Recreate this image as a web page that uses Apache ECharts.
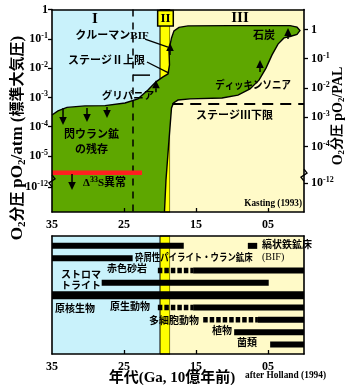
<!DOCTYPE html>
<html>
<head>
<meta charset="utf-8">
<script src="https://cdn.jsdelivr.net/npm/echarts@6/dist/echarts.min.js"></script>
<style>
html, body { margin: 0; padding: 0; background: #fff; }
#c { width: 345px; height: 385px; }
</style>
</head>
<body>
<div id="c"></div>
<script>
// ---- age axis (Ga) ----
const ageTicks = [3.5, 2.5, 1.5, 0.5];
const ageTickLabels = ['35', '25', '15', '05'];

// ---- O2 axes: position on the broken log axis and printed decade exponent ----
const atmTickPos = [0, -1, -2, -3, -4, -5, -6.05];
const atmTickExp = [0, -1, -2, -3, -4, -5, -12];
// right axis in PAL (1 PAL = 0.21 atm)
const palTickPos = [-0.68, -1.68, -2.68, -3.68, -4.68, -5.93];
const palTickExp = [0, -1, -2, -3, -4, -12];

// ---- stages I / II / III (Ga) ----
const stageBounds = [3.5, 2.0, 1.86, 0];

// ---- pO2 envelope: age (Ga) and log10 pO2 (atm) ----
const envAge = [3.5, 3.417, 3.292, 3.042, 2.764, 2.486, 2.306, 2.167, 2.056, 1.958, 1.889,
  1.868, 1.875, 1.84, 1.806, 1.736, 1.611, 1.028, 0.194, 0.097, 0.056, 0.097, 0.194, 0.278,
  0.361, 0.444, 0.528, 0.625, 0.75, 0.917, 1.139, 1.583, 1.75, 1.813, 1.84, 1.875, 1.917, 1.938];
const envLog = [-3.60, -3.46, -3.34, -3.29, -3.28, -3.19, -3.05, -2.75, -2.47, -2.30, -2.20,
  -1.89, -1.38, -0.97, -0.73, -0.61, -0.56, -0.55, -0.55, -0.60, -0.72, -0.85, -0.92, -0.97,
  -1.18, -1.55, -2.00, -2.41, -2.71, -2.92, -3.02, -3.05, -3.09, -3.19, -3.36, -4.45, -5.82, -6.91];

// ---- trend arrows: age, log pO2 from, log pO2 to ----
const arrowAge = [3.347, 3.014, 2.736, 3.222, 2.056, 1.861, 0.611, 0.222];
const arrowFrom = [-3.36, -3.36, -3.33, -5.61, -2.82, -1.55, -2.13, -1.01];
const arrowTo = [-3.94, -3.84, -3.70, -6.16, -2.41, -1.14, -1.72, -0.63];

// ---- constraints ----
const mifEnd = 2.25;          // end of the mass-independent S fractionation
const mifLevel = -5.57;
const stage2Upper = -2.24;    // short bar, stage II upper bound
const stage3Lower = -3.225;   // stage III lower bound
const dividerAge = 2.375;     // dashed divider

// ---- geological / biological records (row, from Ga, to Ga) ----
const recordRows = ['縞状鉄鉱床', '砕屑性パイライト・ウラン鉱床', '赤色砂岩', 'ストロマトライト',
  '原核生物', '原生動物', '多細胞動物', '植物', '菌類'];
const solidRanges = [[0, 3.5, 1.67], [0, 0.78, 0.65], [1, 3.5, 2.38], [2, 1.54, 0], [3, 2.81, 0.49],
  [5, 1.54, 0], [6, 0.64, 0], [7, 0.97, 0], [8, 0.47, 0]];
const thickRanges = [[4, 3.5, 0]];
const dashedRanges = [[2, 2.03, 1.54], [5, 2.03, 1.54], [6, 1.40, 0.64]];

// ---------------------------------------------------------------
const SERIF = "'Liberation Serif','Noto Sans CJK JP',serif";
const COL = { blue: '#c9f2fb', yellow: '#ffff00', cream: '#fffac8', green: '#5ea700', red: '#ff2020' };
const stageFill = [COL.blue, COL.yellow, COL.cream];

const supRich = {
  b: { fontFamily: SERIF, fontSize: 12, fontWeight: 'bold', lineHeight: 14, color: '#000' },
  s: { fontFamily: SERIF, fontSize: 8, fontWeight: 'bold', lineHeight: 8, verticalAlign: 'top', color: '#000' }
};
function expFormatter(pos, exps) {
  return function (v) {
    let i = 0;
    pos.forEach((p, k) => { if (Math.abs(p - v) < Math.abs(pos[i] - v)) i = k; });
    return exps[i] === 0 ? '{b|1}' : '{b|10}{s|' + exps[i] + '}';
  };
}
function ageFormatter(v) {
  let i = 0;
  ageTicks.forEach((t, k) => { if (Math.abs(t - v) < Math.abs(ageTicks[i] - v)) i = k; });
  return ageTickLabels[i];
}
const lineBlack = { show: true, onZero: false, lineStyle: { color: '#000', width: 1.6 } };
const noSplit = { show: false };

function ageAxis(grid, pos, labelled) {
  return {
    gridIndex: grid, type: 'value', min: 0, max: 3.5, inverse: true, position: pos, z: 10,
    axisLine: lineBlack, splitLine: noSplit,
    axisTick: labelled ? { show: true, inside: true, length: 4, customValues: ageTicks.slice(1),
      lineStyle: { color: '#000', width: 1.3 } } : { show: false },
    axisLabel: labelled ? { show: true, customValues: ageTicks, formatter: ageFormatter, margin: 7,
      fontFamily: SERIF, fontWeight: 'bold', fontSize: 12, color: '#000' } : { show: false }
  };
}
function o2Axis(pos, tickPos, tickExp) {
  return {
    gridIndex: 0, type: 'value', min: -6.91, max: 0, position: pos, z: 10,
    axisLine: lineBlack, splitLine: noSplit,
    axisTick: { show: true, length: 4, customValues: tickPos, lineStyle: { color: '#000', width: 1.3 } },
    axisLabel: { show: true, customValues: tickPos, formatter: expFormatter(tickPos, tickExp),
      margin: pos === 'left' ? 4 : 7, rich: supRich }
  };
}
function rowAxis(pos) {
  return {
    gridIndex: 1, type: 'value', min: -0.8, max: 8.77, inverse: true, position: pos, z: 10,
    axisLine: lineBlack, splitLine: noSplit, axisTick: { show: false }, axisLabel: { show: false }
  };
}

// generic straight segments [x0, y0, x1, y1]
function segSeries(grid, rows, style, z) {
  return {
    type: 'custom', xAxisIndex: grid === 0 ? 0 : 2, yAxisIndex: grid === 0 ? 0 : 2, z: z, silent: true,
    data: rows,
    renderItem: function (params, api) {
      const a = api.coord([api.value(0), api.value(1)]);
      const b = api.coord([api.value(2), api.value(3)]);
      return { type: 'line', shape: { x1: a[0], y1: a[1], x2: b[0], y2: b[1] },
        style: Object.assign({ stroke: '#000', lineCap: 'butt' }, style) };
    }
  };
}
function stageSeries(grid) {
  return {
    type: 'custom', xAxisIndex: grid === 0 ? 0 : 2, yAxisIndex: grid === 0 ? 0 : 2, z: 1, silent: true,
    data: stageFill.map((c, i) => [stageBounds[i], stageBounds[i + 1], i]),
    renderItem: function (params, api) {
      const cs = params.coordSys;
      const x0 = api.coord([api.value(0), 0])[0];
      const x1 = api.coord([api.value(1), 0])[0];
      const k = api.value(2);
      return { type: 'rect', shape: { x: Math.min(x0, x1), y: cs.y, width: Math.abs(x1 - x0), height: cs.height },
        style: { fill: stageFill[k], stroke: k === 1 ? '#000' : null, lineWidth: 1 } };
    }
  };
}
// text annotations anchored in data coordinates
function noteSeries(grid, notes) {
  return {
    type: 'custom', xAxisIndex: grid === 0 ? 0 : 2, yAxisIndex: grid === 0 ? 0 : 2, z: 6, silent: true,
    data: notes.map((n, i) => [n.at[0], n.at[1], i]),
    renderItem: function (params, api) {
      const n = notes[api.value(2)];
      const p = api.coord([api.value(0), api.value(1)]);
      const fs = n.size || 11;
      return {
        type: 'text', x: p[0], y: p[1], scaleX: n.sx || 1,
        style: Object.assign({
          text: n.text, fill: '#000', fontFamily: SERIF, fontSize: fs, fontWeight: n.weight || 'bold',
          align: n.align || 'center', verticalAlign: 'middle',
          rich: {
            s: { fontFamily: SERIF, fontSize: Math.round(fs * 0.7), fontWeight: 'bold', lineHeight: 8, verticalAlign: 'top' },
            n: { fontFamily: SERIF, fontSize: fs, fontWeight: n.weight || 'bold', lineHeight: 14 }
          }
        }, n.box || {})
      };
    }
  };
}

const topNotes = [
  { text: 'I', at: [2.903, -0.33], size: 15 },
  { text: 'III', at: [0.889, -0.30], size: 15 },
  { text: 'II', at: [1.924, -0.30], size: 13,
    box: { backgroundColor: COL.yellow, borderColor: '#000', borderWidth: 1.5, padding: [1, 2, 0, 2] } },
  { text: 'クルーマンBIF', at: [2.667, -0.904] },
  { text: 'ステージⅡ上限', at: [2.743, -1.758] },
  { text: 'グリパニア', at: [2.444, -2.952], size: 10.5 },
  { text: '閃ウラン鉱', at: [2.951, -4.283] },
  { text: 'の残存', at: [2.951, -4.795] },
  { text: '{n|Δ}{s|33}{n|S異常}', at: [2.771, -5.922] },
  { text: '石炭', at: [0.556, -0.904] },
  { text: 'ディッキンソニア', at: [0.708, -2.611], sx: 0.86 },
  { text: 'ステージⅢ下限', at: [0.965, -3.635] },
  { text: 'Kasting (1993)', at: [0.028, -6.604], size: 10.5, align: 'right', sx: 0.88 }
];
const bottomNotes = [
  { text: recordRows[0], at: [0.583, 0], size: 10, align: 'left' },
  { text: '(BIF)', at: [0.583, 0.93], size: 10, align: 'left', weight: 'normal' },
  { text: recordRows[1], at: [2.347, 1.0], size: 10, align: 'left', sx: 0.84 },
  { text: recordRows[2], at: [2.181, 1.92], size: 10, align: 'right' },
  { text: 'ストロマ', at: [3.097, 2.37], size: 10 },
  { text: 'トライト', at: [3.097, 3.28], size: 10 },
  { text: recordRows[4], at: [3.458, 5.12], size: 10, align: 'left' },
  { text: recordRows[5], at: [2.139, 4.97], size: 10, align: 'right' },
  { text: recordRows[6], at: [1.458, 6.1], size: 10, align: 'right' },
  { text: recordRows[7], at: [1.0, 6.96], size: 10, align: 'right' },
  { text: recordRows[8], at: [0.653, 7.93], size: 10, align: 'right' }
];

const toSeg = r => [r[1], r[0], r[2], r[0]];

const chart = echarts.init(document.getElementById('c'), null, { renderer: 'canvas', width: 345, height: 385 });
chart.setOption({
  animation: false,
  backgroundColor: '#fff',
  grid: [
    { left: 52, top: 9.5, width: 252, height: 202.5, containLabel: false, outerBoundsMode: 'none' },
    { left: 52, top: 236, width: 252, height: 118, containLabel: false, outerBoundsMode: 'none' }
  ],
  xAxis: [ageAxis(0, 'bottom', true), ageAxis(0, 'top', false), ageAxis(1, 'bottom', true), ageAxis(1, 'top', false)],
  yAxis: [o2Axis('left', atmTickPos, atmTickExp), o2Axis('right', palTickPos, palTickExp), rowAxis('left'), rowAxis('right')],
  series: [
    stageSeries(0),
    stageSeries(1),
    {
      // oxygen envelope
      type: 'custom', xAxisIndex: 0, yAxisIndex: 0, z: 2, silent: true, data: [[3.5, -6.91]],
      renderItem: function (params, api) {
        const pts = envAge.map((a, i) => api.coord([a, envLog[i]]));
        return { type: 'group', children: [
          { type: 'polygon', shape: { points: pts.concat([api.coord([3.5, -6.91])]) }, style: { fill: COL.green } },
          { type: 'polyline', shape: { points: pts }, style: { stroke: '#000', lineWidth: 1.4, fill: null } }
        ] };
      }
    },
    segSeries(0, [[dividerAge, 0, dividerAge, -6.91]], { lineWidth: 1.5, lineDash: [7, 6] }, 3),
    segSeries(0, [[dividerAge, stage2Upper, 2.139, stage2Upper]], { lineWidth: 1.5 }, 3),
    segSeries(0, [[1.83, stage3Lower, 0, stage3Lower]], { lineWidth: 1.8, lineDash: [11, 7] }, 3),
    segSeries(0, [[3.5, mifLevel, mifEnd, mifLevel]], { lineWidth: 4.3, stroke: COL.red }, 3),
    segSeries(0, [[2.208, -1.01, 1.889, -1.28], [2.181, -1.79, 1.875, -2.17]], { lineWidth: 1.3 }, 3),
    {
      // trend arrows
      type: 'custom', xAxisIndex: 0, yAxisIndex: 0, z: 4, silent: true,
      data: arrowAge.map((a, i) => [a, arrowFrom[i], arrowTo[i]]),
      renderItem: function (params, api) {
        const a = api.coord([api.value(0), api.value(1)]);
        const b = api.coord([api.value(0), api.value(2)]);
        const d = b[1] > a[1] ? 1 : -1;
        const base = b[1] - d * 8;
        return { type: 'group', children: [
          { type: 'line', shape: { x1: a[0], y1: a[1], x2: b[0], y2: base }, style: { stroke: '#000', lineWidth: 1.5 } },
          { type: 'polygon', shape: { points: [[b[0], b[1]], [b[0] - 3.8, base], [b[0] + 3.8, base]] }, style: { fill: '#000' } }
        ] };
      }
    },
    segSeries(1, solidRanges.map(toSeg), { lineWidth: 6 }, 3),
    segSeries(1, thickRanges.map(toSeg), { lineWidth: 8 }, 3),
    segSeries(1, dashedRanges.map(toSeg), { lineWidth: 5.5, lineDash: [4.5, 2] }, 3),
    noteSeries(0, topNotes),
    noteSeries(1, bottomNotes)
  ]
});

// axis titles, axis-break marks and credits
function titleRich(latin, cjk, subSize) {
  return {
    d: { fontFamily: SERIF, fontSize: subSize, fontWeight: 'bold', lineHeight: subSize, verticalAlign: 'bottom' },
    n: { fontFamily: SERIF, fontSize: latin, fontWeight: 'bold', lineHeight: latin + 3 },
    j: { fontFamily: SERIF, fontSize: cjk, fontWeight: 'bold', lineHeight: latin + 3 }
  };
}
function brk(x, y) {
  return { type: 'polyline', z: 20, shape: { points: [[x, y + 6], [x - 3, y + 2], [x + 3, y - 2], [x, y - 6]] },
    style: { stroke: '#000', lineWidth: 1.4, fill: null } };
}
const yb1 = chart.convertToPixel({ yAxisIndex: 0 }, -5.85);
const yb2 = chart.convertToPixel({ yAxisIndex: 1 }, -5.65);
chart.setOption({
  graphic: [
    { type: 'text', x: 18, y: 138, rotation: Math.PI / 2, z: 20,
      style: { text: '{n|O}{d|2}{j|分圧 }{n|pO}{d|2}{n|/atm (}{j|標準大気圧}{n|)}', rich: titleRich(17, 15, 11),
        align: 'center', verticalAlign: 'middle', fill: '#000' } },
    { type: 'text', x: 338, y: 116, rotation: Math.PI / 2, z: 20,
      style: { text: '{n|O}{d|2}{j|分圧 }{n|pO}{d|2}{n|/PAL}', rich: titleRich(14, 13, 9),
        align: 'center', verticalAlign: 'middle', fill: '#000' } },
    { type: 'text', x: 172, y: 378, z: 20,
      style: { text: '年代(Ga, 10億年前)', fontFamily: SERIF, fontSize: 15, fontWeight: 'bold', align: 'center', verticalAlign: 'middle', fill: '#000' } },
    { type: 'text', x: 245, y: 375, z: 20, scaleX: 0.85,
      style: { text: 'after Holland (1994)', fontFamily: SERIF, fontSize: 11, fontWeight: 'bold', align: 'left', verticalAlign: 'middle', fill: '#000' } },
    brk(52, yb1),
    brk(304, yb2)
  ]
});
</script>
</body>
</html>
